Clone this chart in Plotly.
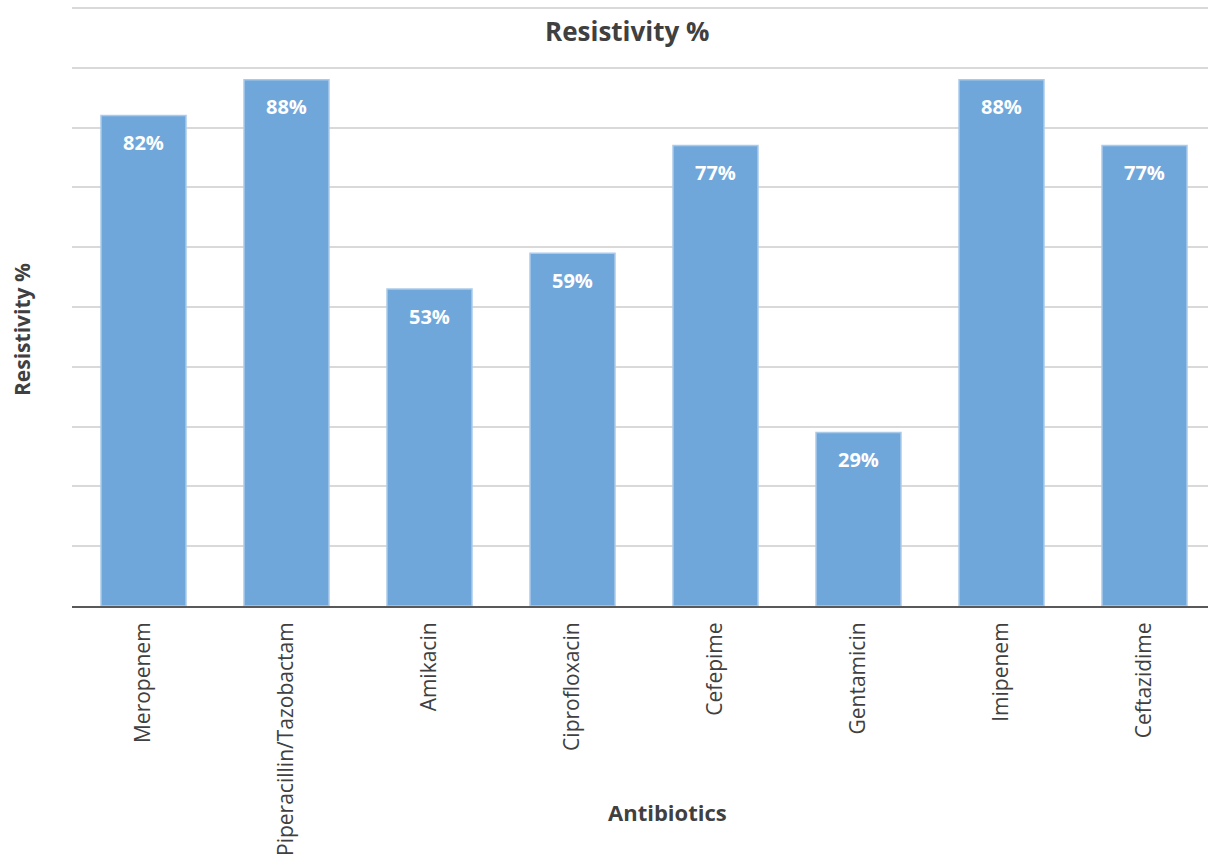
import plotly.graph_objects as go

categories = ["Meropenem", "Piperacillin/Tazobactam", "Amikacin", "Ciprofloxacin",
              "Cefepime", "Gentamicin", "Imipenem", "Ceftazidime"]
values = [82, 88, 53, 59, 77, 29, 88, 77]
labels = ["82%", "88%", "53%", "59%", "77%", "29%", "88%", "77%"]

W, H = 1208, 857
ML, MR, MT, MB = 72, 0, 6, 251
plot_w = W - ML - MR
plot_h = H - MT - MB
cat_px = 143

fig = go.Figure()
fig.add_trace(go.Bar(
    x=list(range(len(categories))), y=values,
    width=85 / cat_px,
    marker=dict(color="rgb(112,167,219)", line=dict(color="rgb(170,202,234)", width=1.5)),
    hoverinfo="skip",
))

for i, (v, t) in enumerate(zip(values, labels)):
    fig.add_annotation(x=i, y=v, text="<b>%s</b>" % t, showarrow=False,
                       yanchor="middle", yshift=-27,
                       font=dict(family="Open Sans", size=20, color="white"))

fig.add_annotation(text="<b>Resistivity %</b>", xref="paper", yref="paper",
                   x=(627 - ML) / plot_w, y=(H - MB - 31) / plot_h, showarrow=False,
                   yanchor="middle", font=dict(family="Open Sans", size=26, color="#404040"))
fig.add_annotation(text="<b>Resistivity %</b>", xref="paper", yref="paper",
                   x=(22 - ML) / plot_w, xanchor="center",
                   y=(H - MB - 330) / plot_h, textangle=-90, showarrow=False,
                   font=dict(family="Open Sans", size=21, color="#404040"))
fig.add_annotation(text="<b>Antibiotics</b>", xref="paper", yref="paper",
                   x=(667 - ML) / plot_w, y=0, yshift=-(812 - (H - MB)), yanchor="middle",
                   showarrow=False,
                   font=dict(family="Open Sans", size=22, color="#404040"))

fig.update_layout(
    width=W, height=H,
    margin=dict(l=ML, r=MR, t=MT, b=MB, autoexpand=False),
    plot_bgcolor="white", paper_bgcolor="white",
    showlegend=False,
    xaxis=dict(
        range=[-0.5, -0.5 + plot_w / cat_px],
        tickmode="array", tickvals=list(range(len(categories))), ticktext=categories,
        tickangle=-90, ticks="", showgrid=False, ticklabelstandoff=6,
        showline=True, linecolor="#595959", linewidth=2,
        tickfont=dict(family="Open Sans", size=21, color="#404040"),
    ),
    yaxis=dict(
        range=[0, 100.33], tickmode="array", tickvals=[10 * k for k in range(1, 11)],
        showticklabels=False, ticks="",
        showgrid=True, gridcolor="#d9d9d9", gridwidth=2,
        zeroline=False, showline=False,
    ),
)

fig.write_html("out.html")
